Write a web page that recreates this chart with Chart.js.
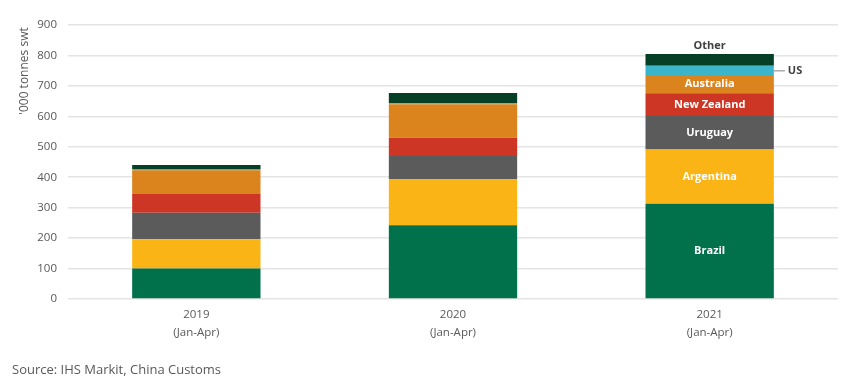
<!DOCTYPE html>
<html>
<head>
<meta charset="utf-8">
<script src="https://cdn.jsdelivr.net/npm/chart.js@4"></script>
<style>
  html, body { margin: 0; padding: 0; background: #fff; }
  #wrap { position: relative; width: 852px; height: 383px; }
  #source { position: absolute; left: 12px; top: 360px; font: 13px "Open Sans", sans-serif; color: #595959; }
</style>
</head>
<body>
<div id="wrap">
  <canvas id="chart" width="852" height="383"></canvas>
  <div id="source">Source: IHS Markit, China Customs</div>
</div>
<script>
const years = [['2019', '(Jan-Apr)'], ['2020', '(Jan-Apr)'], ['2021', '(Jan-Apr)']];
const countries = ['Brazil', 'Argentina', 'Uruguay', 'New Zealand', 'Australia', 'US', 'Other'];
const brazil = [100, 242, 313];
const argentina = [96, 152, 178];
const uruguay = [87, 76, 110];
const newZealand = [62, 60, 75];
const australia = [78, 110, 60];
const us = [2, 3, 30];
const other = [15, 34, 39];
const yTicks = [0, 100, 200, 300, 400, 500, 600, 700, 800, 900];

const colors = ['#00714a', '#fbb416', '#5b5b5b', '#cd3625', '#db831c', '#3cb4c9', '#053f25'];
const series = [brazil, argentina, uruguay, newZealand, australia, us, other];

const grey = '#595959';
const font = '"Open Sans", sans-serif';

// labels on the 2021 bar, like the original
const barLabels = {
  id: 'barLabels',
  afterDatasetsDraw(chart) {
    const { ctx } = chart;
    const i = 2;
    ctx.save();
    ctx.textAlign = 'center';
    ctx.textBaseline = 'middle';
    chart.data.datasets.forEach((ds, d) => {
      const bar = chart.getDatasetMeta(d).data[i];
      const mid = (bar.y + bar.base) / 2;
      if (ds.label === 'Other') {
        ctx.fillStyle = '#404040';
        ctx.font = `bold 11px ${font}`;
        ctx.fillText(ds.label, bar.x, bar.y - 8);
      } else if (ds.label === 'US') {
        const right = bar.x + bar.width / 2;
        ctx.strokeStyle = '#808080';
        ctx.lineWidth = 1;
        ctx.beginPath();
        ctx.moveTo(right, mid + 0.5);
        ctx.lineTo(right + 11, mid + 0.5);
        ctx.stroke();
        ctx.fillStyle = '#404040';
        ctx.font = `bold 11px ${font}`;
        ctx.textAlign = 'left';
        ctx.fillText(ds.label, right + 14, mid);
        ctx.textAlign = 'center';
      } else {
        ctx.fillStyle = '#fff';
        ctx.font = `bold 11px ${font}`;
        ctx.fillText(ds.label, bar.x, mid);
      }
    });
    // y axis title near the top
    ctx.translate(25, 71);
    ctx.rotate(-Math.PI / 2);
    ctx.fillStyle = grey;
    ctx.font = `12px ${font}`;
    ctx.fillText("'000 tonnes swt", 0, 0);
    ctx.restore();
  },
};

new Chart(document.getElementById('chart'), {
  type: 'bar',
  data: {
    labels: years,
    datasets: countries.map((name, k) => ({
      label: name,
      data: series[k],
      backgroundColor: colors[k],
      borderWidth: 0,
      categoryPercentage: 0.5,
      barPercentage: 1,
    })),
  },
  options: {
    responsive: false,
    animation: false,
    layout: { padding: { top: 25, right: 14, bottom: 0, left: 0 } },
    plugins: { legend: { display: false }, tooltip: { enabled: false } },
    scales: {
      x: {
        stacked: true,
        grid: { display: false, drawTicks: false },
        border: { display: false },
        ticks: { color: grey, font: { family: font, size: 11.5, lineHeight: 1.55 }, padding: 7 },
        afterFit: (s) => { s.height = 84; },
      },
      y: {
        stacked: true,
        min: 0,
        max: 900,
        afterBuildTicks: (s) => { s.ticks = yTicks.map((v) => ({ value: v })); },
        grid: { color: '#e4e4e4', drawTicks: false, lineWidth: 1.5 },
        border: { display: false },
        ticks: { color: grey, font: { family: font, size: 11.5 }, padding: 11 },
        afterFit: (s) => { s.width = 68; },
      },
    },
  },
  plugins: [barLabels],
});
</script>
</body>
</html>
